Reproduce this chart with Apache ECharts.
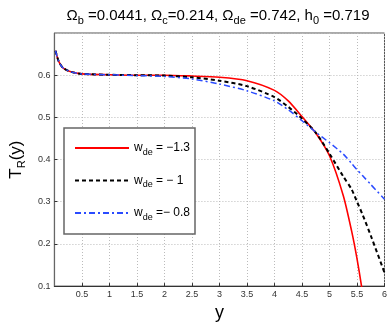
<!DOCTYPE html>
<html>
<head>
<meta charset="utf-8">
<script src="https://cdn.jsdelivr.net/npm/echarts@6/dist/echarts.min.js"></script>
<style>
html, body { margin: 0; padding: 0; background: #fff; }
#main { width: 390px; height: 327px; }
</style>
</head>
<body>
<div id="main"></div>
<script>
// sample points along y (shared by all curves)
var xs = [0.02, 0.08, 0.16, 0.3, 0.5, 1, 1.5, 2, 2.5, 3, 3.5, 4, 4.25, 4.5, 4.75, 5, 5.25, 5.4, 5.5, 5.6, 5.75, 6];

var trRed   = [0.658, 0.632, 0.617, 0.608, 0.603, 0.601, 0.600, 0.600, 0.598, 0.595, 0.587, 0.564, 0.539, 0.502, 0.463, 0.409, 0.315, 0.232, 0.165, 0.085, -0.05, -0.35];
var trBlack = [0.658, 0.632, 0.617, 0.608, 0.603, 0.601, 0.600, 0.599, 0.595, 0.587, 0.574, 0.548, 0.525, 0.497, 0.464, 0.414, 0.360, 0.330, 0.300, 0.270, 0.220, 0.132];
var trBlue  = [0.658, 0.632, 0.617, 0.608, 0.603, 0.601, 0.599, 0.597, 0.591, 0.579, 0.563, 0.539, 0.518, 0.492, 0.465, 0.440, 0.413, 0.391, 0.376, 0.362, 0.341, 0.306];

var wdeLabels = ['\u22121.3', '\u2212 1', '\u2212 0.8'];
var wdeEq = [' = ', ' = ', ' ='];

function pairs(ys) {
  return xs.map(function (x, i) { return [x, ys[i]]; });
}

var font = 'Liberation Sans';
var chart = echarts.init(document.getElementById('main'));

chart.setOption({
  animation: false,
  backgroundColor: '#fff',
  title: {
    text: '{m|\u03a9}{s|b}{m| =0.0441, \u03a9}{s|c}{m|=0.214, \u03a9}{s|de}{m| =0.742, h}{s|0}{m| =0.719}',
    left: 213, top: 1, textAlign: 'center',
    textStyle: {
      rich: {
        m: { fontFamily: font, fontSize: 15, fontWeight: 'normal', color: '#000', lineHeight: 18 },
        s: { fontFamily: font, fontSize: 11, fontWeight: 'normal', color: '#000', padding: [9, 0, 0, 0] }
      }
    }
  },
  grid: {
    left: 42, right: 5, top: 33, bottom: 30,
    show: true, borderColor: '#555', borderWidth: 1
  },
  xAxis: {
    type: 'value', min: 0, max: 6, interval: 0.5,
    name: 'y', nameLocation: 'middle', nameGap: 11,
    nameTextStyle: { fontFamily: font, fontSize: 18, color: '#000' },
    axisLine: { lineStyle: { color: '#333', width: 1.2 } },
    axisTick: { inside: true, length: 3, lineStyle: { color: '#333' } },
    axisLabel: { showMinLabel: false, fontFamily: font, fontSize: 9, color: '#333', margin: 4 },
    splitLine: { lineStyle: { type: [1, 2], color: '#bbb' } }
  },
  yAxis: {
    type: 'value', min: 0.1, max: 0.7, interval: 0.1,
    name: '{m|T}{s|R}{m|(y)}', nameLocation: 'middle', nameGap: 24,
    nameTextStyle: {
      rich: {
        m: { fontFamily: font, fontSize: 17, color: '#000' },
        s: { fontFamily: font, fontSize: 11, color: '#000', padding: [10, 0, 0, 0] }
      }
    },
    axisLine: { lineStyle: { color: '#666', width: 1.2 } },
    axisTick: { inside: true, length: 3, lineStyle: { color: '#333' } },
    axisLabel: { showMaxLabel: false, fontFamily: font, fontSize: 9, color: '#333', margin: 4 },
    splitLine: { lineStyle: { type: [1, 2], color: '#bbb' } }
  },
  legend: {
    orient: 'vertical', left: 69, top: 137,
    itemWidth: 54, itemHeight: 14, itemGap: 17.5,
    itemStyle: { opacity: 0 },
    data: wdeLabels,
    formatter: function (name) {
      var i = wdeLabels.indexOf(name);
      return '{m|w}{s|de}{m|' + wdeEq[i] + name + '}';
    },
    textStyle: {
      rich: {
        m: { fontFamily: font, fontSize: 12, color: '#000', lineHeight: 16 },
        s: { fontFamily: font, fontSize: 9, color: '#000', padding: [9, 0, 0, 0] }
      }
    }
  },
  graphic: [{
    type: 'rect', z: 3,
    shape: { x: 64, y: 128, width: 131, height: 106 },
    style: { fill: '#fff', stroke: '#666', lineWidth: 1.5 }
  }],
  series: [
    { name: wdeLabels[0], type: 'line', data: pairs(trRed), symbol: 'none', z: 2,
      smooth: 0.25,
      lineStyle: { color: '#ff0000', width: 1.6 }, itemStyle: { color: '#ff0000' } },
    { name: wdeLabels[1], type: 'line', data: pairs(trBlack), symbol: 'none', z: 2,
      smooth: 0.25,
      lineStyle: { color: '#000', width: 2, type: [4, 3] }, itemStyle: { color: '#000' } },
    { name: wdeLabels[2], type: 'line', data: pairs(trBlue), symbol: 'none', z: 2,
      smooth: 0.25,
      lineStyle: { color: '#2a4bff', width: 1.5, type: [6, 3, 2, 3] }, itemStyle: { color: '#2a4bff' } }
  ]
});

window.addEventListener('resize', function () {
  chart.resize();
});
</script>
</body>
</html>
